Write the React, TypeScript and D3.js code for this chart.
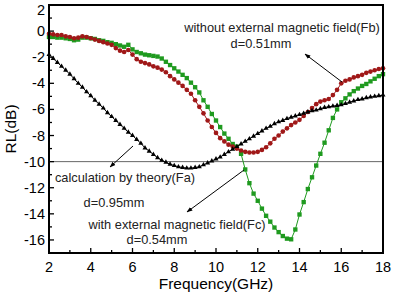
import React from 'react'
import * as d3 from 'd3'

// frequency grid (GHz), 0.2 GHz step, 81 points
const freqs = d3.range(0, 81).map(i => +(2 + i * 0.2).toFixed(1))

// calculation by theory (Fa), d=0.95mm
const fa = [
  -1.8, -2.1, -2.4, -2.7, -3.0, -3.3, -3.65, -4.0, -4.3, -4.65,
  -4.95, -5.3, -5.6, -5.9, -6.25, -6.55, -6.85, -7.15, -7.45, -7.75,
  -8.0, -8.3, -8.6, -8.95, -9.2, -9.45, -9.7, -9.9, -10.05, -10.2,
  -10.3, -10.4, -10.45, -10.5, -10.5, -10.45, -10.4, -10.25, -10.1, -9.95,
  -9.8, -9.65, -9.45, -9.25, -9.05, -8.85, -8.65, -8.45, -8.25, -8.05,
  -7.85, -7.65, -7.45, -7.3, -7.1, -6.95, -6.85, -6.7, -6.6, -6.5,
  -6.4, -6.3, -6.2, -6.1, -6.05, -5.95, -5.85, -5.8, -5.75, -5.7,
  -5.65, -5.55, -5.45, -5.35, -5.25, -5.2, -5.1, -5.05, -5.0, -4.95,
  -4.9,
]

// without external magnetic field (Fb), d=0.51mm
const fb = [
  -0.2, -0.25, -0.3, -0.3, -0.4, -0.45, -0.55, -0.5, -0.4, -0.45,
  -0.55, -0.65, -0.75, -0.85, -0.95, -1.05, -1.3, -1.5, -1.6, -1.45,
  -1.8, -2.15, -2.35, -2.45, -2.55, -2.7, -2.8, -2.95, -3.15, -3.45,
  -3.7, -3.95, -4.2, -4.5, -4.8, -5.3, -5.8, -6.3, -6.85, -7.35,
  -7.8, -8.2, -8.45, -8.7, -8.85, -9.0, -9.15, -9.25, -9.3, -9.3,
  -9.25, -9.1, -8.9, -8.6, -8.25, -8.0, -7.7, -7.45, -7.2, -7.0,
  -6.8, -6.5, -6.2, -5.9, -5.6, -5.4, -5.3, -5.2, -4.9, -4.5,
  -4.0, -3.8, -3.7, -3.55, -3.45, -3.35, -3.2, -3.1, -3.0, -2.9,
  -2.85,
]

// with external magnetic field (Fc), d=0.54mm
const fc = [
  -0.45, -0.45, -0.5, -0.5, -0.55, -0.6, -0.7, -0.65, -0.5, -0.5,
  -0.55, -0.6, -0.7, -0.75, -0.85, -0.9, -1.0, -1.1, -1.2, -1.05,
  -1.4, -1.6, -1.7, -1.8, -1.85, -1.9, -1.95, -2.1, -2.35, -2.6,
  -2.85, -3.1, -3.35, -3.6, -3.95, -4.3, -4.7, -5.3, -5.8, -6.35,
  -6.85, -7.35, -7.85, -8.25, -8.65, -8.85, -9.4, -10.6, -11.65, -12.45,
  -13.0, -13.6, -14.15, -14.6, -15.05, -15.4, -15.7, -15.9, -15.95, -15.2,
  -14.05, -13.1, -12.1, -11.2, -10.3, -9.4, -8.55, -7.6, -6.65, -6.0,
  -5.45, -5.15, -4.85, -4.6, -4.4, -4.2, -4.05, -3.85, -3.65, -3.45,
  -3.3,
]

const xTicks = [2, 4, 6, 8, 10, 12, 14, 16, 18]
const xMinor = [3, 5, 7, 9, 11, 13, 15, 17]
const yTicks = [2, 0, -2, -4, -6, -8, -10, -12, -14, -16]
const yMinor = [1, -1, -3, -5, -7, -9, -11, -13, -15]

const W = 395
const H = 294
const left = 49, right = 383, top = 5, bottom = 253
const font = '"Liberation Sans", Arial, sans-serif'

export default function App() {
  const x = d3.scaleLinear().domain([2, 18]).range([left, right])
  const y = d3.scaleLinear().domain([-17, 2]).range([bottom, top])

  const line = (vals: number[]) =>
    d3.line<number>().x((_, i) => x(freqs[i])).y(d => y(d))(vals) || ''

  const tri = d3.symbol(d3.symbolTriangle, 11)() || ''
  const sq = d3.symbol(d3.symbolSquare, 19)() || ''
  const circ = d3.symbol(d3.symbolCircle, 17)() || ''

  const series = [
    { vals: fc, color: '#1f9a1f', shape: sq },
    { vals: fb, color: '#a01818', shape: circ },
    { vals: fa, color: '#000000', shape: tri },
  ]

  return (
    <svg width={W} height={H} style={{ position: 'absolute', left: 0, top: 0, background: '#fff' }}
      fontFamily={font}>
      {/* reference line at -10 dB */}
      <line x1={left} x2={right} y1={y(-10)} y2={y(-10)} stroke="#666" strokeWidth={1} />

      {series.map((s, k) => (
        <g key={k}>
          <path d={line(s.vals)} fill="none" stroke={s.color} strokeWidth={1} />
          {s.vals.map((v, i) => (
            <path key={i} d={s.shape} fill={s.color}
              transform={`translate(${x(freqs[i])},${y(v)})`} />
          ))}
        </g>
      ))}

      {/* ticks */}
      {xTicks.map(t => (
        <g key={'x' + t}>
          <line x1={x(t)} x2={x(t)} y1={bottom} y2={bottom - 5} stroke="#000" strokeWidth={1.3} />
          <text x={x(t)} y={272} fontSize={14.5} textAnchor="middle">{t}</text>
        </g>
      ))}
      {xMinor.map(t => (
        <line key={'xm' + t} x1={x(t)} x2={x(t)} y1={bottom} y2={bottom - 3} stroke="#000" strokeWidth={1.3} />
      ))}
      {yTicks.map(t => (
        <g key={'y' + t}>
          <line x1={left - 1} x2={left + 5} y1={y(t)} y2={y(t)} stroke="#000" strokeWidth={1.3} />
          <text x={45} y={Math.max(y(t) + 5, 15)} fontSize={14.5} textAnchor="end">{String(t)}</text>
        </g>
      ))}
      {yMinor.map(t => (
        <line key={'ym' + t} x1={left} x2={left + 3} y1={y(t)} y2={y(t)} stroke="#000" strokeWidth={1.3} />
      ))}

      {/* frame */}
      <rect x={left} y={top} width={right - left} height={bottom - top} fill="none" stroke="#000" strokeWidth={2} />

      {/* annotations */}
      <defs>
        <marker id="ah" viewBox="0 0 10 10" refX="9" refY="5" markerWidth="6" markerHeight="6" orient="auto">
          <path d="M0,1.5 L10,5 L0,8.5 Z" fill="#000" />
        </marker>
      </defs>
      <g fontSize={12.8} fill="#222">
        <text x={282} y={32} textAnchor="middle">without external magnetic field(Fb)</text>
        <text x={261} y={48} textAnchor="middle">d=0.51mm</text>
        <text x={125} y={182} textAnchor="middle">calculation by theory(Fa)</text>
        <text x={114} y={207} textAnchor="middle">d=0.95mm</text>
        <text x={177} y={229} textAnchor="middle">with external magnetic field(Fc)</text>
        <text x={157} y={244} textAnchor="middle">d=0.54mm</text>
      </g>
      <line x1={342} y1={82} x2={305} y2={54} stroke="#000" strokeWidth={1} markerEnd="url(#ah)" />
      <line x1={133} y1={146} x2={110} y2={167} stroke="#000" strokeWidth={1} markerEnd="url(#ah)" />
      <line x1={244} y1={170} x2={187} y2={212} stroke="#000" strokeWidth={1} markerEnd="url(#ah)" />

      {/* axis titles */}
      <text x={216} y={289} fontSize={15.5} textAnchor="middle">Frequency(GHz)</text>
      <text transform={`translate(16,${(top + bottom) / 2}) rotate(-90)`} fontSize={15.5} textAnchor="middle">RL(dB)</text>
    </svg>
  )
}
